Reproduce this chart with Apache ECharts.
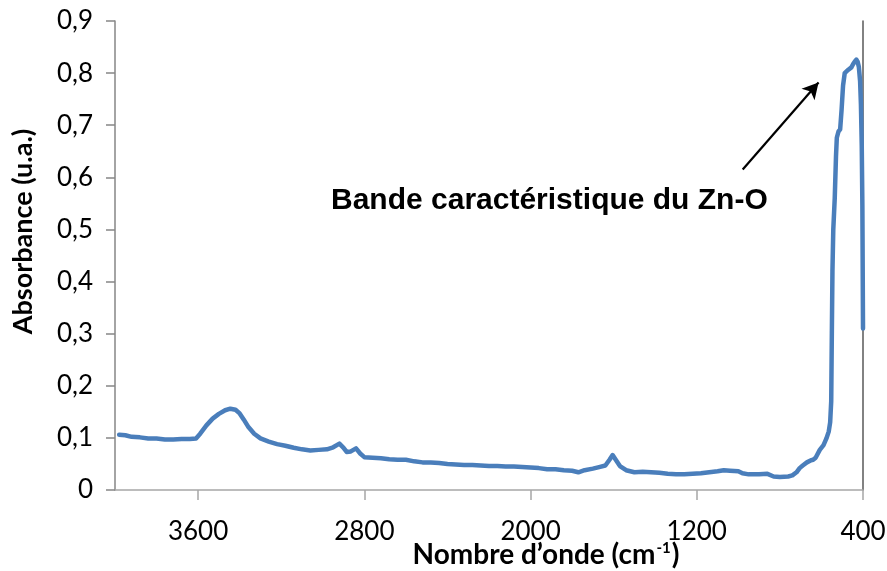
<!DOCTYPE html>
<html>
<head>
<meta charset="utf-8">
<script src="https://cdn.jsdelivr.net/npm/echarts@6/dist/echarts.min.js"></script>
<style>
  html, body { margin: 0; padding: 0; background: #fff; }
  #chart { width: 887px; height: 571px; }
</style>
</head>
<body>
<div id="chart"></div>
<script>
// FTIR spectrum: wavenumber (cm-1) and absorbance (u.a.)
const wavenumbers = [
  3980, 3950, 3920, 3880, 3840, 3800, 3760, 3720, 3680, 3640, 3610,
  3590, 3560, 3530, 3500, 3470, 3445, 3420, 3400, 3380, 3360, 3330,
  3300, 3260, 3220, 3180, 3140, 3100, 3060, 3020, 2980, 2950, 2920,
  2900, 2885, 2865, 2840, 2820, 2800, 2760, 2720, 2680, 2640, 2600,
  2560, 2520, 2480, 2440, 2400, 2360, 2320, 2280, 2240, 2200, 2160,
  2120, 2080, 2040, 2000, 1960, 1920, 1880, 1840, 1800, 1770, 1740,
  1700, 1670, 1640, 1620, 1605, 1590, 1570, 1540, 1500, 1460, 1420,
  1380, 1340, 1300, 1260, 1220, 1180, 1140, 1100, 1070, 1040, 1000,
  980, 950, 900, 860, 830, 800, 760, 740, 720, 705, 690, 670, 650,
  640, 628, 608, 590, 576, 565, 558, 553, 550, 547, 543, 536, 530,
  526, 518, 510, 503, 496, 488, 472, 456, 448, 440, 432, 426, 420,
  414, 410, 406, 403, 400
];
const absorbance = [
  0.106, 0.105, 0.102, 0.101, 0.099, 0.099, 0.097, 0.097, 0.098, 0.098, 0.099,
  0.108, 0.124, 0.137, 0.146, 0.153, 0.156, 0.154, 0.147, 0.135, 0.122, 0.108,
  0.099, 0.093, 0.088, 0.085, 0.081, 0.078, 0.076, 0.077, 0.078, 0.082, 0.089,
  0.081, 0.073, 0.074, 0.080, 0.070, 0.063, 0.062, 0.061, 0.059, 0.058, 0.058,
  0.055, 0.053, 0.053, 0.052, 0.050, 0.049, 0.048, 0.048, 0.047, 0.046, 0.046,
  0.045, 0.045, 0.044, 0.043, 0.042, 0.040, 0.040, 0.038, 0.037, 0.034, 0.038,
  0.041, 0.044, 0.047, 0.058, 0.067, 0.058, 0.046, 0.038, 0.034, 0.035, 0.034,
  0.033, 0.031, 0.030, 0.030, 0.031, 0.032, 0.034, 0.036, 0.038, 0.037, 0.036,
  0.032, 0.030, 0.030, 0.031, 0.026, 0.025, 0.026, 0.028, 0.034, 0.042, 0.047, 0.053, 0.057,
  0.058, 0.062, 0.077, 0.086, 0.099, 0.112, 0.130, 0.170, 0.300, 0.420, 0.500, 0.560, 0.640,
  0.676, 0.688, 0.692, 0.730, 0.776, 0.800, 0.806, 0.811, 0.817, 0.822, 0.826, 0.822, 0.812,
  0.785, 0.740, 0.660, 0.545, 0.310
];

// Axis settings
const xMin = 400, xMax = 4000, xStep = 800;
const yMin = 0, yMax = 0.9, yStep = 0.1;

// Annotation arrow (data coordinates) and its caption
const arrowFrom = [979, 0.615];
const arrowTo = [614, 0.782];
const annotationText = 'Bande caractéristique du Zn-O';

const points = wavenumbers.map((w, i) => [w, absorbance[i]]);

const chart = echarts.init(document.getElementById('chart'), null, { renderer: 'canvas' });

const tickFont = 'Lato, "Open Sans", sans-serif';

chart.setOption({
  animation: false,
  backgroundColor: '#ffffff',
  grid: { left: 115, right: 24, top: 21, bottom: 81, containLabel: false, outerBoundsMode: 'none' },
  xAxis: {
    type: 'value',
    inverse: true,
    min: xMin,
    max: xMax,
    interval: xStep,
    name: 'Nombre d’onde (cm{sup|-1})',
    nameLocation: 'middle',
    nameGap: 51,
    nameMoveOverlap: false,
    nameTextStyle: {
      fontFamily: tickFont, fontWeight: 'bold', fontSize: 28, color: '#000',
      padding: [0, 0, 0, 114],
      rich: {
        sup: { fontFamily: tickFont, fontWeight: 'bold', fontSize: 15, color: '#000', verticalAlign: 'top', padding: [0, 1, 11, 1] }
      }
    },
    axisLine: { show: true, onZero: false, lineStyle: { color: '#a6a6a6', width: 1.5 } },
    axisTick: { show: true, inside: false, length: 10, lineStyle: { color: '#a6a6a6', width: 1.5 } },
    axisLabel: {
      showMaxLabel: false,
      margin: 29,
      fontFamily: tickFont, fontSize: 26, color: '#000',
      formatter: v => String(v)
    },
    splitLine: { show: false }
  },
  yAxis: [{
    type: 'value',
    min: yMin,
    max: yMax,
    interval: yStep,
    name: 'Absorbance (u.a.)',
    nameLocation: 'middle',
    nameGap: 78,
    nameMoveOverlap: false,
    nameTextStyle: {
      fontFamily: tickFont, fontWeight: 'bold', fontSize: 27, color: '#000',
      padding: [0, 0, 0, 48]
    },
    axisLine: { show: true, lineStyle: { color: '#868686', width: 1.5 } },
    axisTick: { show: true, inside: false, length: 9, lineStyle: { color: '#868686', width: 1.5 } },
    axisLabel: {
      margin: 22,
      fontFamily: tickFont, fontSize: 26, color: '#000',
      formatter: v => (v === 0 ? '0' : v.toFixed(1).replace('.', ','))
    },
    splitLine: { show: false }
  }, {
    type: 'value',
    position: 'right',
    min: yMin,
    max: yMax,
    interval: yStep,
    axisLine: { show: true, lineStyle: { color: '#595959', width: 1.5 } },
    axisTick: { show: false },
    axisLabel: { show: false },
    splitLine: { show: false }
  }],
  series: [{
    type: 'line',
    data: points,
    yAxisIndex: 0,
    showSymbol: false,
    symbol: 'none',
    clip: false,
    z: 5,
    lineStyle: { color: '#4a7ebb', width: 4.5, join: 'round', cap: 'round' },
    markLine: {
      silent: true,
      symbol: ['none', 'arrow'],
      symbolSize: [13, 16],
      label: { show: false },
      lineStyle: { color: '#000', width: 2.2, type: 'solid' },
      data: [[{ coord: arrowFrom }, { coord: arrowTo }]]
    }
  }],
  graphic: [{
    type: 'text',
    left: 331,
    top: 186,
    style: {
      text: annotationText,
      fontFamily: '"Liberation Sans", Arial, sans-serif',
      fontWeight: 'bold',
      fontSize: 30,
      fill: '#000'
    }
  }]
});
</script>
</body>
</html>
